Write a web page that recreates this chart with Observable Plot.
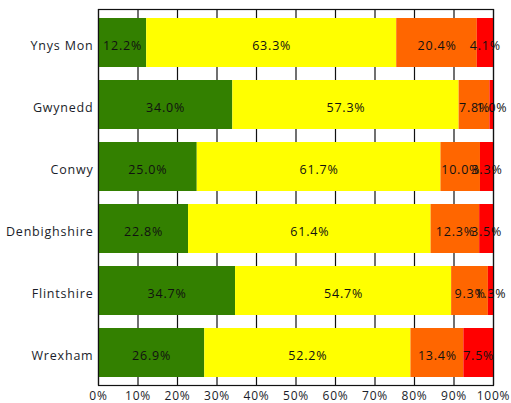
<!DOCTYPE html>
<html>
<head>
<meta charset="utf-8">
<script src="https://cdn.jsdelivr.net/npm/d3@7"></script>
<script src="https://cdn.jsdelivr.net/npm/@observablehq/plot@0.6"></script>
<style>
  body { margin: 0; background: #fff; }
  #chart svg text { letter-spacing: 0.8px; }
</style>
</head>
<body>
<div id="chart"></div>
<script>
// Local authority areas, top to bottom
const areas = ["Ynys Mon", "Gwynedd", "Conwy", "Denbighshire", "Flintshire", "Wrexham"];

// Support categories and their colours
const categories = ["Green", "Yellow", "Amber", "Red"];
const categoryColors = ["#338000", "#ffff00", "#ff6600", "#ff0000"];

// Share of schools (%) in each category, one value per area
const green  = [12.2, 34.0, 25.0, 22.8, 34.7, 26.9];
const yellow = [63.3, 57.3, 61.7, 61.4, 54.7, 52.2];
const amber  = [20.4,  7.8, 10.0, 12.3,  9.3, 13.4];
const red    = [ 4.1,  1.0,  3.3,  3.5,  1.3,  7.5];

// Percentage axis ticks
const xTicks = [0, 10, 20, 30, 40, 50, 60, 70, 80, 90, 100];

const series = [green, yellow, amber, red];
const rows = areas.flatMap((area, i) =>
  categories.map((cat, j) => ({ area, cat, value: series[j][i] }))
);

const chart = Plot.plot({
  width: 511,
  height: 403,
  marginLeft: 98,
  marginRight: 18,
  marginTop: 9,
  marginBottom: 18,
  style: { fontFamily: "'Open Sans', sans-serif", fontSize: "12.5px", color: "#1a1d2a", background: "#fff", overflow: "visible" },
  x: { domain: [0, 100] },
  y: { domain: areas, paddingInner: 0.21, paddingOuter: 0.1 },
  color: { domain: categories, range: categoryColors },
  marks: [
    // vertical gridlines, visible in the gaps between bars
    Plot.ruleX(xTicks, { stroke: "#111", strokeWidth: 1.2 }),
    Plot.barX(rows, Plot.stackX({ x: "value", y: "area", z: "cat", fill: "cat", order: categories })),
    Plot.text(rows, Plot.stackX({
      x: "value", y: "area", z: "cat", order: categories,
      text: d => d.value.toFixed(1) + "%",
      fill: "#111", fontSize: 12.5, dy: 3
    })),
    Plot.frame({ stroke: "#111", strokeWidth: 1.2 }),
    Plot.axisX({ ticks: xTicks, tickFormat: d => d + "%", tickSize: 0, tickPadding: 6, fontSize: 12, label: null }),
    Plot.axisY({ tickSize: 0, tickPadding: 5, dy: 3, fontWeight: 500, label: null })
  ]
});

document.getElementById("chart").appendChild(chart);
</script>
</body>
</html>
